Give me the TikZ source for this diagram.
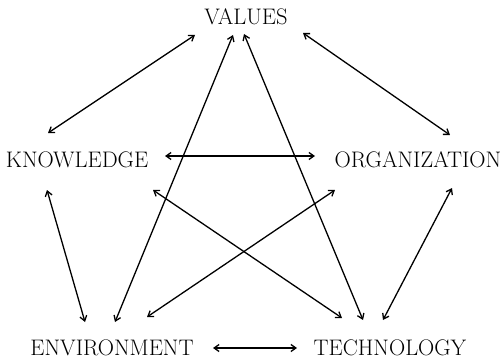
\documentclass[tikz,border=0pt]{standalone}
\usetikzlibrary{arrows.meta}
\begin{document}
\begin{tikzpicture}[x=1pt,y=1pt,
  lbl/.style={anchor=base,inner sep=0pt,font=\fontsize{22.5}{27}\selectfont},
  link/.style={{Straight Barb[length=5pt,width=7pt]}-{Straight Barb[length=5pt,width=7pt]},line width=1.3pt}]
\useasboundingbox (0,0) rectangle (502,359);
\node[lbl] (values) at (246,334) {VALUES};
\node[lbl] (knowledge) at (77,192) {KNOWLEDGE};
\node[lbl] (organization) at (418,192) {ORGANIZATION};
\node[lbl] (environment) at (112,4) {ENVIRONMENT};
\node[lbl] (technology) at (390,4) {TECHNOLOGY};
\draw[link] ([shift={(-51,-10)}]values.base) -- ([shift={(-29,34)}]knowledge.base);
\draw[link] ([shift={(57,-8)}]values.base) -- ([shift={(32,32)}]organization.base);
\draw[link] ([shift={(-13,-10)}]values.base) -- ([shift={(3,33)}]environment.base);
\draw[link] ([shift={(-2,-9)}]values.base) -- ([shift={(-27,35)}]technology.base);
\draw[link] ([shift={(88,11)}]knowledge.base) -- ([shift={(-103,11)}]organization.base);
\draw[link] ([shift={(-30,-23)}]knowledge.base) -- ([shift={(-27,33)}]environment.base);
\draw[link] ([shift={(76,-23)}]knowledge.base) -- ([shift={(-48,37)}]technology.base);
\draw[link] ([shift={(-83,-23)}]organization.base) -- ([shift={(35,38)}]environment.base);
\draw[link] ([shift={(34,-21)}]organization.base) -- ([shift={(-7,35)}]technology.base);
\draw[link] ([shift={(101,7)}]environment.base) -- ([shift={(-93,7)}]technology.base);
\end{tikzpicture}
\end{document}
